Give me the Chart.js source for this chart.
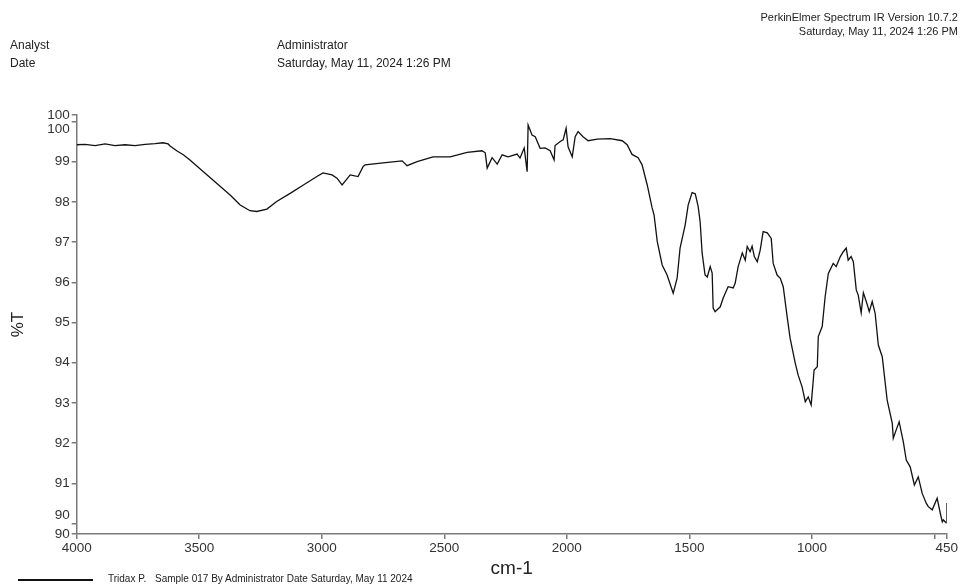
<!DOCTYPE html>
<html>
<head>
<meta charset="utf-8">
<script src="https://cdn.jsdelivr.net/npm/chart.js@4.4.1/dist/chart.umd.min.js"></script>
<style>
  html, body { margin: 0; padding: 0; background: #fff; }
  #wrap { position: relative; width: 973px; height: 584px; overflow: hidden; font-family: "Liberation Sans", Arial, sans-serif; color: #222; }
  #wrap canvas { position: absolute; left: 0; top: 0; }
  .txt { position: absolute; white-space: nowrap; line-height: 14px; }
  .hdr { font-size: 11px; }
  .info { font-size: 12px; }
  .leg { font-size: 10px; }
  #legLine { position: absolute; left: 18px; top: 579px; width: 75px; height: 2px; background: #111; }
</style>
</head>
<body>
<div id="wrap">
  <canvas id="ir"></canvas>
  <div class="txt hdr" style="right:15px; top:10px;">PerkinElmer Spectrum IR Version 10.7.2</div>
  <div class="txt hdr" style="right:15px; top:24px;">Saturday, May 11, 2024 1:26 PM</div>
  <div class="txt info" style="left:10px; top:38px;">Analyst</div>
  <div class="txt info" style="left:10px; top:56px;">Date</div>
  <div class="txt info" style="left:277px; top:38px;">Administrator</div>
  <div class="txt info" style="left:277px; top:56px;">Saturday, May 11, 2024 1:26 PM</div>
  <div id="legLine"></div>
  <div class="txt leg" style="left:108px; top:572px;">Tridax P.</div>
  <div class="txt leg" style="left:155px; top:572px;">Sample 017 By Administrator Date Saturday, May 11 2024</div>
</div>
<script>
// espectro (cm-1, %T)
const wavenumbers = [
  4000, 3966, 3925, 3884, 3844, 3803, 3762, 3721, 3680, 3648, 3627, 3619, 3592, 3565, 3538,
  3483, 3429, 3374, 3333, 3293, 3265, 3224, 3184, 3129, 3075, 3020, 2995, 2958, 2938, 2917,
  2884, 2852, 2831, 2823, 2750, 2672, 2652, 2611, 2546, 2476, 2407, 2346, 2333, 2325, 2305,
  2284, 2264, 2240, 2203, 2191, 2174, 2162, 2158, 2142, 2129, 2109, 2089, 2068, 2052, 2048,
  2027, 2015, 2003, 1995, 1978, 1966, 1954, 1934, 1913, 1876, 1823, 1774, 1754, 1734, 1709,
  1693, 1672, 1652, 1644, 1631, 1611, 1591, 1566, 1550, 1538, 1517, 1505, 1489, 1476, 1464,
  1456, 1448, 1436, 1427, 1415, 1407, 1403, 1395, 1374, 1362, 1342, 1321, 1313, 1301, 1284,
  1272, 1264, 1252, 1244, 1235, 1223, 1211, 1199, 1182, 1166, 1158, 1142, 1129, 1117, 1101,
  1089, 1068, 1056, 1040, 1027, 1015, 1003, 991, 978, 974, 958, 946, 933, 913, 901,
  884, 872, 860, 852, 840, 831, 819, 811, 799, 790, 774, 766, 754, 742, 729,
  713, 693, 672, 668, 656, 644, 627, 615, 599, 582, 566, 550, 533, 525, 509,
  489, 476, 468, 464, 452, 450
];
const transmittance = [
  99.42, 99.43, 99.40, 99.44, 99.40, 99.42, 99.40, 99.43, 99.45, 99.47, 99.44, 99.39, 99.27, 99.17, 99.04,
  98.75, 98.46, 98.17, 97.92, 97.78, 97.76, 97.82, 98.01, 98.21, 98.42, 98.63, 98.72, 98.67, 98.59, 98.42,
  98.67, 98.63, 98.88, 98.92, 98.97, 99.02, 98.90, 99.00, 99.12, 99.12, 99.23, 99.27, 99.22, 98.84, 99.10,
  98.94, 99.17, 99.12, 99.19, 99.09, 99.34, 98.75, 99.91, 99.66, 99.62, 99.33, 99.34, 99.27, 99.04, 99.40,
  99.50, 99.54, 99.83, 99.37, 99.12, 99.62, 99.75, 99.62, 99.52, 99.56, 99.57, 99.52, 99.42, 99.18, 99.10,
  98.92, 98.42, 97.85, 97.67, 97.01, 96.43, 96.18, 95.73, 96.10, 96.85, 97.43, 97.92, 98.23, 98.20, 97.88,
  97.50, 96.73, 96.18, 96.13, 96.39, 96.23, 95.36, 95.27, 95.39, 95.61, 95.89, 95.86, 95.98, 96.39, 96.73,
  96.55, 96.89, 96.76, 96.90, 96.64, 96.51, 96.80, 97.26, 97.23, 97.09, 96.47, 96.18, 96.10, 95.89, 95.14,
  94.61, 93.99, 93.69, 93.40, 93.03, 93.15, 92.95, 93.82, 93.90, 94.65, 94.90, 95.64, 96.22, 96.47, 96.39,
  96.64, 96.76, 96.85, 96.55, 96.64, 96.51, 95.81, 95.68, 95.24, 95.74, 95.44, 95.27, 95.52, 95.23, 94.44,
  94.15, 93.07, 92.49, 92.12, 92.33, 92.53, 92.03, 91.58, 91.41, 90.96, 91.16, 90.75, 90.50, 90.42, 90.34,
  90.63, 90.25, 90.04, 90.09, 90.02, 90.51
];

// ejes como en el informe PerkinElmer
const xMin = 450, xMax = 4000;
const yMin = 89.74, yMax = 100.16;
const xTickValues = [4000, 3500, 3000, 2500, 2000, 1500, 1000, 500, 450];
const xTickLabels = ['4000', '3500', '3000', '2500', '2000', '1500', '1000', '', '450'];
const yTickValues = [89.74, 90, 91, 92, 93, 94, 95, 96, 97, 98, 99, 100, 100.16];
const yTickLabels = ['90', ['90', ''], '91', '92', '93', '94', '95', '96', '97', '98', '99', ['', '100'], '100'];

const axisColor = '#7a7a7a';
const tickFont = { family: 'Liberation Sans, Arial, sans-serif', size: 13.5 };

const points = wavenumbers.map((w, i) => ({ x: w, y: transmittance[i] }));

new Chart(document.getElementById('ir'), {
  type: 'line',
  data: {
    datasets: [{
      label: 'Tridax P.',
      data: points,
      borderColor: '#111',
      borderWidth: 1.3,
      pointRadius: 0,
      tension: 0,
      fill: false
    }]
  },
  options: {
    responsive: true,
    maintainAspectRatio: false,
    animation: false,
    layout: { padding: { left: 4, right: 26.3, top: 115, bottom: 0 } },
    plugins: { legend: { display: false }, tooltip: { enabled: false } },
    scales: {
      x: {
        type: 'linear',
        reverse: true,
        min: xMin,
        max: xMax,
        afterFit: s => { s.height = 50; },
        afterBuildTicks: s => { s.ticks = xTickValues.map(v => ({ value: v })); },
        ticks: {
          autoSkip: false,
          maxRotation: 0,
          padding: 1,
          color: '#333',
          font: tickFont,
          callback: (v, i) => xTickLabels[i]
        },
        grid: { display: true, drawOnChartArea: false, drawTicks: true, tickLength: 5, color: axisColor, lineWidth: 1.5 },
        border: { display: true, color: axisColor, width: 1.5 },
        title: { display: true, text: 'cm-1', color: '#222', font: { family: 'Liberation Sans, Arial, sans-serif', size: 19 }, padding: { top: 0, bottom: 4 } }
      },
      y: {
        type: 'linear',
        min: yMin,
        max: yMax,
        afterFit: s => { s.width = 72.7; },
        afterBuildTicks: s => { s.ticks = yTickValues.map(v => ({ value: v })); },
        ticks: {
          autoSkip: false,
          padding: 2,
          color: '#333',
          font: tickFont,
          callback: (v, i) => yTickLabels[i]
        },
        grid: { display: true, drawOnChartArea: false, drawTicks: true, tickLength: 5, color: axisColor, lineWidth: 1.5 },
        border: { display: true, color: axisColor, width: 1.5 },
        title: { display: true, text: '%T', color: '#222', font: { family: 'Liberation Sans, Arial, sans-serif', size: 17 }, padding: { top: 4, bottom: 0 } }
      }
    }
  }
});
</script>
</body>
</html>
